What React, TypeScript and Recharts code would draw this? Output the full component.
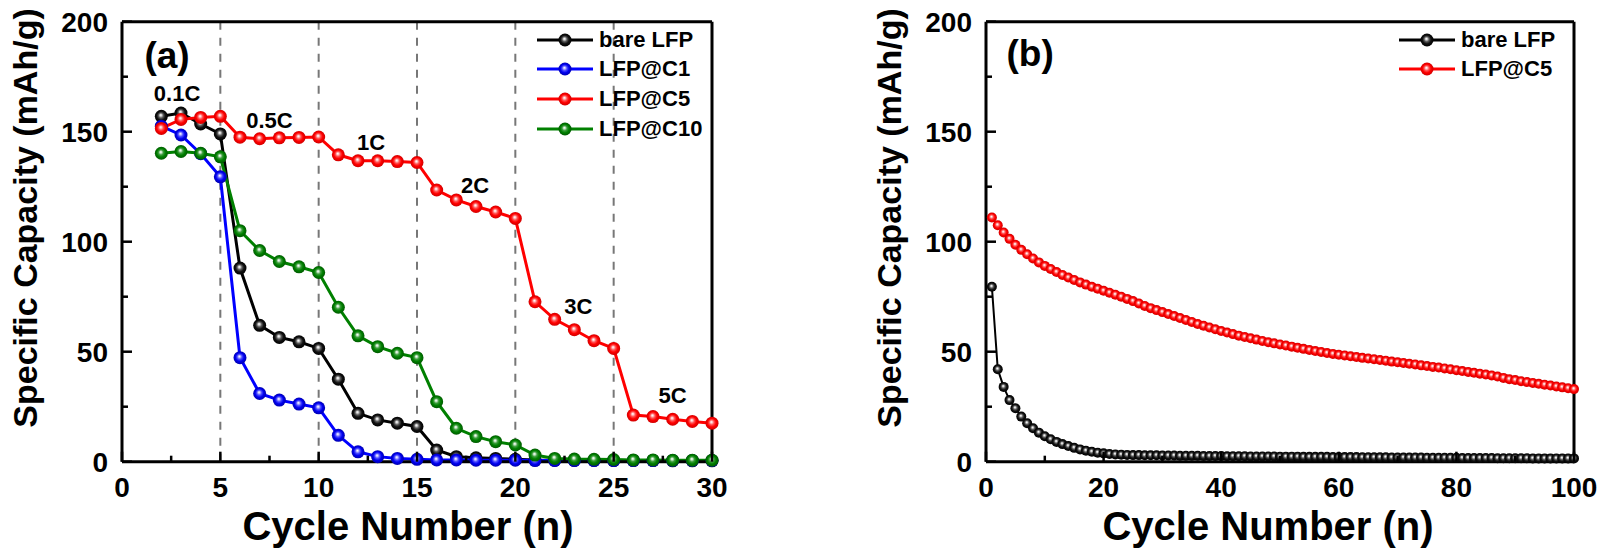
import React from "react";
import {
  LineChart,
  Line,
  XAxis,
  YAxis,
  ReferenceLine,
  ReferenceDot,
  Legend,
} from "recharts";

const FONT = "'Liberation Sans', Arial, Helvetica, sans-serif";

// ---- (a) rate capability, cycles 2..30 ----
const rateCycles = [
  2, 3, 4, 5, 6, 7, 8, 9, 10, 11, 12, 13, 14, 15, 16, 17, 18, 19, 20, 21, 22,
  23, 24, 25, 26, 27, 28, 29, 30,
];
const rateBare = [
  157, 158.5, 153.5, 149, 88, 62, 56.5, 54.5, 51.5, 37.5, 22, 19, 17.5, 16,
  5.3, 2.3, 1.8, 1.5, 1.1, 0.8, 0.7, 0.6, 0.6, 0.5, 0.5, 0.5, 0.4, 0.4, 0.4,
];
const rateC1 = [
  152.5, 148.5, 140, 129.5, 47.3, 31, 28, 26.2, 24.5, 12, 4.5, 2.3, 1.5, 1.1,
  0.8, 0.8, 0.7, 0.7, 0.7, 0.5, 0.5, 0.5, 0.5, 0.5, 0.5, 0.5, 0.5, 0.5, 0.5,
];
const rateC5 = [
  151.5, 155.6, 156.5, 157, 147.5, 146.8, 147.2, 147.4, 147.6, 139.5, 136.8,
  136.8, 136.4, 136, 123.5, 119, 116, 113.5, 110.6, 72.7, 64.7, 60, 55, 51.5,
  21.2, 20.5, 19.3, 18.3, 17.5,
];
const rateC10 = [
  140.2, 141, 140.2, 138.6, 105, 96, 91, 88.6, 86, 70.2, 57.2, 52.3, 49.3,
  47.3, 27.3, 15.2, 11.4, 9.1, 7.6, 3, 1.5, 1.2, 1.1, 1, 0.8, 0.8, 0.7, 0.7,
  0.7,
];
const rateSteps = [5, 10, 15, 20, 25];
const rateNotes = [
  { text: "0.1C", x: 2.8, y: 167.6 },
  { text: "0.5C", x: 7.5, y: 155.3 },
  { text: "1C", x: 12.66, y: 145.3 },
  { text: "2C", x: 17.95, y: 125.8 },
  { text: "3C", x: 23.2, y: 70.8 },
  { text: "5C", x: 28.0, y: 30.3 },
];
const rateXTicks = [0, 2.5, 5, 7.5, 10, 12.5, 15, 17.5, 20, 22.5, 25, 27.5, 30];
const rateOrder = ["bare", "c1", "c5", "c10"];

// ---- (b) long-term cycling, cycles 1..100 ----
const lifeBare = [
  79.5, 42, 34, 28, 24.3, 20.5, 17.5, 15.2, 13.2, 11.6,
  10.2, 9.0, 8.0, 7.1, 6.3, 5.6, 5.0, 4.5, 4.1, 3.8,
  3.5, 3.3, 3.2, 3.1, 3.0, 3.0, 2.9, 2.9, 2.9, 2.8,
  2.8, 2.8, 2.7, 2.7, 2.7, 2.7, 2.6, 2.6, 2.6, 2.6,
  2.5, 2.5, 2.5, 2.5, 2.4, 2.4, 2.4, 2.4, 2.4, 2.3,
  2.3, 2.3, 2.3, 2.2, 2.2, 2.2, 2.2, 2.2, 2.1, 2.1,
  2.1, 2.1, 2.1, 2.0, 2.0, 2.0, 2.0, 2.0, 1.9, 1.9,
  1.9, 1.9, 1.9, 1.9, 1.8, 1.8, 1.8, 1.8, 1.8, 1.8,
  1.7, 1.7, 1.7, 1.7, 1.7, 1.7, 1.6, 1.6, 1.6, 1.6,
  1.6, 1.6, 1.5, 1.5, 1.5, 1.5, 1.5, 1.5, 1.5, 1.5,
];
const lifeC5 = [
  111.0, 107.5, 104.2, 101.3, 98.6, 96.3, 94.3, 92.4, 90.6, 89.0,
  87.6, 86.2, 84.9, 83.7, 82.6, 81.5, 80.5, 79.5, 78.6, 77.7,
  76.8, 75.9, 75.0, 74.0, 73.0, 71.9, 70.8, 69.8, 68.9, 68.0,
  67.1, 66.2, 65.3, 64.4, 63.5, 62.6, 61.8, 61.0, 60.2, 59.4,
  58.7, 58.0, 57.3, 56.7, 56.1, 55.5, 54.9, 54.3, 53.8, 53.3,
  52.8, 52.3, 51.8, 51.3, 50.8, 50.3, 49.9, 49.4, 49.0, 48.6,
  48.3, 47.9, 47.6, 47.2, 46.9, 46.6, 46.2, 45.9, 45.5, 45.2,
  44.9, 44.5, 44.2, 43.8, 43.5, 43.1, 42.8, 42.4, 42.0, 41.6,
  41.2, 40.8, 40.4, 40.0, 39.6, 39.2, 38.7, 38.1, 37.5, 37.1,
  36.6, 36.2, 35.8, 35.4, 35.0, 34.6, 34.2, 33.8, 33.4, 33.0,
];
const lifeXTicks = [0, 10, 20, 30, 40, 50, 60, 70, 80, 90, 100];
const lifeOrder = ["bare", "c5"];
const capTicks = [0, 25, 50, 75, 100, 125, 150, 175, 200];

const rateData = rateCycles.map((c, i) => ({
  cycle: c,
  bare: rateBare[i],
  c1: rateC1[i],
  c5: rateC5[i],
  c10: rateC10[i],
}));
const lifeData = lifeC5.map((v, i) => ({
  cycle: i + 1,
  bare: lifeBare[i],
  c5: v,
}));

const GRAD: Record<string, string> = {
  bare: "sph-black",
  c1: "sph-blue",
  c5: "sph-red",
  c10: "sph-green",
};

const Gradients = () => (
  <svg width={0} height={0} style={{ position: "absolute" }}>
    <defs>
      {[
        ["sph-black", "#d8d8d8", "#5a5a5a", "#111", "#000"],
        ["sph-blue", "#c8c8ff", "#4a4aff", "#0000f0", "#0000b0"],
        ["sph-red", "#ffd0d0", "#ff5050", "#ff0000", "#d00000"],
        ["sph-green", "#cfe8cf", "#3c9c3c", "#008000", "#005a00"],
      ].map(([id, a, b, c, d]) => (
        <radialGradient key={id} id={id} cx="50%" cy="50%" r="50%" fx="45%" fy="40%">
          <stop offset="0%" stopColor="#ffffff" />
          <stop offset="14%" stopColor={a} />
          <stop offset="38%" stopColor={b} />
          <stop offset="65%" stopColor={c} />
          <stop offset="100%" stopColor={d} />
        </radialGradient>
      ))}
    </defs>
  </svg>
);

const sphere = (key: string, r: number) => (p: any) => {
  if (p.cx == null || p.cy == null) return <g key={`e-${key}-${p.index}`} />;
  return (
    <circle
      key={`d-${key}-${p.index}`}
      cx={p.cx}
      cy={p.cy}
      r={r}
      fill={`url(#${GRAD[key]})`}
    />
  );
};

const makeXTick = (majorStep: number) => (props: any) => {
  const { x, y, payload } = props;
  const major = payload.value % majorStep === 0;
  return (
    <g>
      <line x1={x} x2={x} y1={y} y2={y - (major ? 10 : 6)} stroke="#000" strokeWidth={2.5} />
      {major && (
        <text x={x} y={y + 35} textAnchor="middle" fontSize={28} fontWeight={700} fill="#000" fontFamily={FONT}>
          {payload.value}
        </text>
      )}
    </g>
  );
};

const YTick = (props: any) => {
  const { x, y, payload } = props;
  const major = payload.value % 50 === 0;
  return (
    <g>
      <line x1={x} x2={x + (major ? 10 : 6)} y1={y} y2={y} stroke="#000" strokeWidth={2.5} />
      {major && (
        <text x={x - 14} y={y + 10} textAnchor="end" fontSize={28} fontWeight={700} fill="#000" fontFamily={FONT}>
          {payload.value}
        </text>
      )}
    </g>
  );
};

const XTitle = ({ tx, ty }: any) => (
  <text x={tx} y={ty} textAnchor="middle" fontSize={40} fontWeight={700} fill="#000" fontFamily={FONT}>
    Cycle Number (n)
  </text>
);

const YTitle = ({ tx, ty }: any) => (
  <text
    x={tx}
    y={ty}
    transform={`rotate(-90 ${tx} ${ty})`}
    textAnchor="middle"
    fontSize={34}
    fontWeight={700}
    fill="#000"
    fontFamily={FONT}
  >
    Specific Capacity (mAh/g)
  </text>
);

const SphereLegend = (props: any) => {
  const order: string[] = props.order || [];
  const items = [...(props.payload || [])].sort(
    (a: any, b: any) => order.indexOf(a.dataKey) - order.indexOf(b.dataKey)
  );
  return (
    <div style={{ fontFamily: FONT, fontWeight: 700, fontSize: 22, color: "#000" }}>
      {items.map((it: any) => (
        <div key={it.value} style={{ display: "flex", alignItems: "center", height: 29.6 }}>
          <svg width={56} height={16} style={{ display: "block" }}>
            <line x1={0} x2={56} y1={8} y2={8} stroke={it.color} strokeWidth={3} />
            <circle cx={28} cy={8} r={6.5} fill={`url(#${GRAD[it.dataKey]})`} />
          </svg>
          <span style={{ marginLeft: 6, lineHeight: "22px", whiteSpace: "nowrap" }}>{it.value}</span>
        </div>
      ))}
    </div>
  );
};

const noteLabel = (text: string, size: number) => ({
  value: text,
  position: "center" as const,
  fontSize: size,
  fontWeight: 700,
  fill: "#000",
  fontFamily: FONT,
});

const axisLine = { stroke: "#000", strokeWidth: 3 };

export default function App() {
  return (
    <div style={{ position: "absolute", left: 0, top: 0, width: 1605, height: 555, background: "#fff", fontFamily: FONT }}>
      <Gradients />
      <div style={{ position: "absolute", left: 0, top: 0 }}>
        <LineChart
          width={740}
          height={555}
          data={rateData}
          margin={{ top: 21.7, right: 28, bottom: 0, left: 0 }}
        >
          <XAxis
            type="number"
            dataKey="cycle"
            domain={[0, 30]}
            ticks={rateXTicks}
            interval={0}
            height={93.3}
            tickSize={0}
            tickMargin={0}
            tickLine={false}
            axisLine={axisLine}
            tick={makeXTick(5)}
            label={<XTitle tx={408} ty={540} />}
          />
          <YAxis
            type="number"
            domain={[0, 200]}
            ticks={capTicks}
            interval={0}
            width={122}
            tickSize={0}
            tickMargin={0}
            tickLine={false}
            axisLine={axisLine}
            tick={YTick}
            label={<YTitle tx={37} ty={218} />}
          />
          {rateSteps.map((s) => (
            <ReferenceLine key={s} x={s} stroke="#777" strokeWidth={2} strokeDasharray="8 8" />
          ))}
          <ReferenceLine y={200} stroke="#000" strokeWidth={3} />
          <ReferenceLine x={30} stroke="#000" strokeWidth={3} />
          <Line name="bare LFP" dataKey="bare" stroke="#000000" strokeWidth={3} dot={sphere("bare", 6.5)} activeDot={false} isAnimationActive={false} />
          <Line name="LFP@C1" dataKey="c1" stroke="#0000ff" strokeWidth={3} dot={sphere("c1", 6.5)} activeDot={false} isAnimationActive={false} />
          <Line name="LFP@C5" dataKey="c5" stroke="#ff0000" strokeWidth={3} dot={sphere("c5", 6.5)} activeDot={false} isAnimationActive={false} />
          <Line name="LFP@C10" dataKey="c10" stroke="#008000" strokeWidth={3} dot={sphere("c10", 6.5)} activeDot={false} isAnimationActive={false} />
          {rateNotes.map((n) => (
            <ReferenceDot key={n.text} x={n.x} y={n.y} r={0} fillOpacity={0} strokeOpacity={0} label={noteLabel(n.text, 22)} />
          ))}
          <ReferenceDot x={2.29} y={184.9} r={0} fillOpacity={0} strokeOpacity={0} label={noteLabel("(a)", 37)} />
          <Legend
            layout="vertical"
            align="center"
            verticalAlign="middle"
            content={<SphereLegend order={rateOrder} />}
            wrapperStyle={{ left: 537, top: 25, width: 200, height: 120 }}
          />
        </LineChart>
      </div>

      <div style={{ position: "absolute", left: 840, top: 0 }}>
        <LineChart
          width={765}
          height={555}
          data={lifeData}
          margin={{ top: 21.7, right: 31, bottom: 0, left: 0 }}
        >
          <XAxis
            type="number"
            dataKey="cycle"
            domain={[0, 100]}
            ticks={lifeXTicks}
            interval={0}
            height={93.3}
            tickSize={0}
            tickMargin={0}
            tickLine={false}
            axisLine={axisLine}
            tick={makeXTick(20)}
            label={<XTitle tx={428} ty={540} />}
          />
          <YAxis
            type="number"
            domain={[0, 200]}
            ticks={capTicks}
            interval={0}
            width={146}
            tickSize={0}
            tickMargin={0}
            tickLine={false}
            axisLine={axisLine}
            tick={YTick}
            label={<YTitle tx={61} ty={218} />}
          />
          <ReferenceLine y={200} stroke="#000" strokeWidth={3} />
          <ReferenceLine x={100} stroke="#000" strokeWidth={3} />
          <Line name="bare LFP" dataKey="bare" stroke="#000000" strokeWidth={2} dot={sphere("bare", 5)} activeDot={false} isAnimationActive={false} />
          <Line name="LFP@C5" dataKey="c5" stroke="#ff0000" strokeWidth={2} dot={sphere("c5", 5)} activeDot={false} isAnimationActive={false} />
          <ReferenceDot x={7.5} y={185.8} r={0} fillOpacity={0} strokeOpacity={0} label={noteLabel("(b)", 37)} />
          <Legend
            layout="vertical"
            align="center"
            verticalAlign="middle"
            content={<SphereLegend order={lifeOrder} />}
            wrapperStyle={{ left: 559, top: 25, width: 200, height: 60 }}
          />
        </LineChart>
      </div>
    </div>
  );
}
